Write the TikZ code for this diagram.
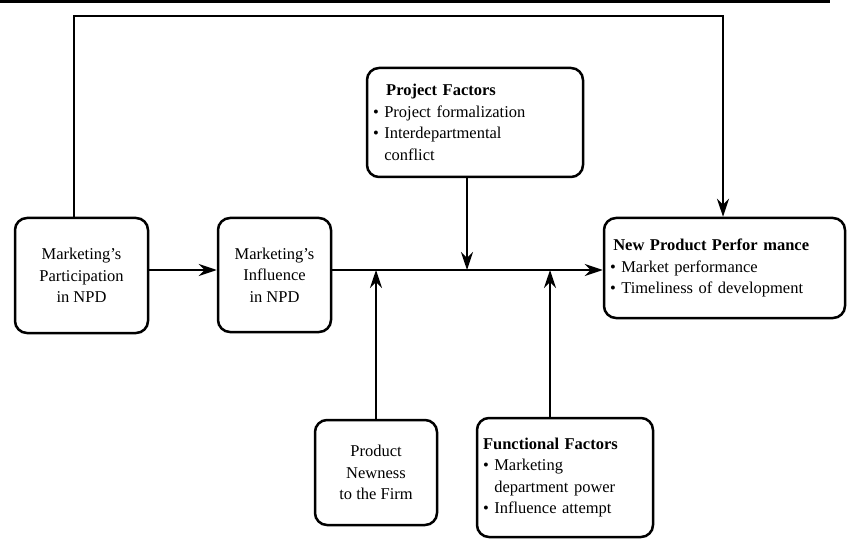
\documentclass[tikz,border=0pt]{standalone}
\usepackage{fontspec}
\setmainfont{Liberation Serif}
\usetikzlibrary{arrows.meta}

\tikzstyle{box}=[draw, line width=2.5pt, rounded corners=12pt, inner sep=6pt, font=\fontsize{16.5}{21.5}\selectfont]
\tikzstyle{arrow}=[line width=1.6pt, -{Stealth[length=18pt, width=12pt, inset=6pt]}]
\newcommand{\itm}{\textbullet\ }
\newcommand{\hang}{\hphantom{\textbullet\ }}

\begin{document}
\begin{tikzpicture}[x=1pt, y=-1pt]
      \useasboundingbox (0,0) rectangle (849,540);
      \draw[line width=3pt] (0,1.5) -- (830,1.5);

      \node[box, minimum width=133pt, minimum height=115pt, align=center] (part) at (81.5, 275.5) {Marketing's\\Participation\\in NPD};
      \node[box, minimum width=113pt, minimum height=114pt, align=center] (infl) at (274.5, 275) {Marketing's\\Influence\\in NPD};
      \node[box, minimum height=109pt, text width=204pt, align=left] (proj) at (475, 122.5) {\hspace{0.8em}\textbf{Project Factors}\\\itm Project formalization\\\itm Interdepartmental\\\hang conflict};
      \node[box, minimum height=100pt, text width=229pt, align=left] (perf) at (724.5, 268) {\hspace{0.2em}\textbf{New Product Perfor mance}\\\itm Market performance\\\itm Timeliness of development};
      \node[box, minimum width=122pt, minimum height=105pt, align=center] (new) at (376, 472.5) {Product\\Newness\\to the Firm};
      \node[box, minimum height=119pt, text width=164pt, align=left] (func) at (565, 477.5) {\textbf{Functional Factors}\\\itm Marketing\\\hang department power\\\itm Influence attempt};

      \coordinate (main) at (376, 270);
      \coordinate (jp) at (467, 270);
      \coordinate (jf) at (550, 270);
      \coordinate (tl) at (74, 16);
      \coordinate (tr) at (723, 16);

      \draw[arrow] (part.east |- main) to (infl.west |- main);
      \draw[arrow] (infl.east |- main) to (perf.west |- main);
      \draw[arrow] (jp |- proj.south) to (jp);
      \draw[arrow] (new.north) to (main);
      \draw[arrow] (jf |- func.north) to (jf);
      \draw[arrow] (tl |- part.north) -- (tl) -- (tr) -- (tr |- perf.north);
    \end{tikzpicture}
\end{document}
